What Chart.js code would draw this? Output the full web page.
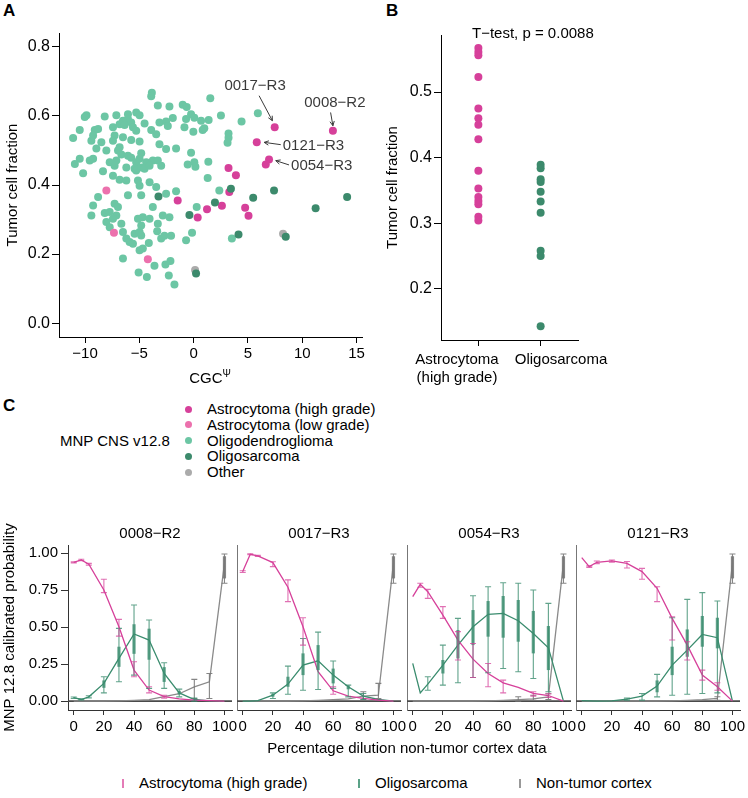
<!DOCTYPE html>
<html>
<head>
<meta charset="utf-8">
<script src="https://cdn.jsdelivr.net/npm/chart.js@4"></script>
<style>
  body { margin: 0; background: #fff; font-family: "Liberation Sans", Arial, sans-serif; }
  #fig { position: relative; width: 748px; height: 798px; overflow: hidden; }
  canvas { position: absolute; }
  .txt { position: absolute; font-size: 15px; line-height: 18px; color: #000; white-space: nowrap; }
  .mid { transform: translateX(-50%); }
  .letter { position: absolute; font-size: 17px; line-height: 20px; font-weight: bold; }
  .dot { position: absolute; width: 7px; height: 7px; border-radius: 50%; }
  .bar { position: absolute; width: 1.5px; height: 9px; }
</style>
</head>
<body>
<div id="fig">
  <div class="letter" style="left:3px;top:1px">A</div>
  <div class="letter" style="left:386px;top:1px">B</div>
  <div class="letter" style="left:3px;top:396px">C</div>

  <canvas id="chartA" width="372" height="370" style="left:0;top:0"></canvas>
  <canvas id="chartB" width="240" height="390" style="left:370px;top:0"></canvas>
  <div class="txt mid" style="left:210px;top:369px">CGC<sup style="font-size:10px;line-height:0">Ψ</sup></div>
  <div class="txt" style="left:472px;top:24px">T−test, p = 0.0088</div>
  <div id="groupLabels"></div>

  <div class="txt" style="left:60px;top:432px">MNP CNS v12.8</div>
  <div id="legendC"></div>

  <canvas id="c1" width="252" height="220" style="left:0;top:520px"></canvas>
  <canvas id="c2" width="252" height="220" style="left:169px;top:520px"></canvas>
  <canvas id="c3" width="252" height="220" style="left:339px;top:520px"></canvas>
  <canvas id="c4" width="252" height="220" style="left:508px;top:520px"></canvas>

  <div class="txt mid" style="left:407px;top:739px">Percentage dilution non-tumor cortex data</div>
  <div id="legendBottom"></div>
</div>

<script>
// ---------- panel A: CGC score vs tumor cell fraction ----------
const oligodendroX = [-3.85,-3.91,-3.30,-2.23,-9.87,-10.03,-8.19,-7.12,-6.05,-5.29,-4.98,-6.05,-5.75,-6.51,-6.82,-4.52,-3.15,-2.54,-1.92,
  -10.49,-11.10,-9.11,-8.80,-9.42,-8.50,-9.26,-7.43,-6.36,-5.59,-5.29,-3.91,-3.45,-2.38,-7.28,-7.43,-6.51,-5.75,-4.98,-3.15,-2.54,-1.62,
  -6.82,-6.97,-6.66,-6.05,-5.75,-5.29,-4.83,-4.98,-4.37,-3.76,-3.30,-2.99,-8.96,-8.04,-9.26,-9.57,-10.49,-10.94,-10.18,-8.35,-7.73,-7.12,
  -7.28,-6.20,-5.44,-5.29,-4.83,-4.52,-4.06,-7.43,-6.82,-6.20,-5.13,-4.98,-4.06,-3.45,-2.54,-1.62,-8.80,-6.05,-4.83,
  -9.26,-9.42,-8.19,-7.73,-7.28,-6.97,-7.12,-7.43,-8.04,-7.73,-6.66,-6.51,-6.20,-5.90,-5.59,-5.44,-4.98,-4.83,-5.13,-4.83,-4.68,-4.06,
  -3.76,-3.30,-3.36,-2.84,-2.23,-2.69,-2.99,-2.08,-4.98,-4.68,-4.13,-6.51,-3.61,-2.60,-2.14,-5.07,-4.31,-2.29,-1.77,
  1.53,-1.01,-0.64,-0.24,0.06,-0.70,0.68,1.38,2.51,4.41,5.91,-0.85,-0.03,0.83,0.98,3.21,3.21,3.12,-0.24,-0.55,0.06,0.16,1.35,1.29,2.36,
  0.28,-0.15,-0.70,3.52];
const oligodendroY = [0.667,0.657,0.630,0.627,0.602,0.597,0.598,0.602,0.605,0.610,0.602,0.591,0.581,0.586,0.576,0.578,0.581,0.584,0.594,
  0.559,0.536,0.559,0.562,0.528,0.524,0.543,0.567,0.574,0.567,0.557,0.559,0.547,0.571,0.543,0.528,0.538,0.530,0.526,0.518,0.504,0.506,
  0.509,0.500,0.488,0.485,0.479,0.466,0.492,0.476,0.466,0.471,0.471,0.456,0.506,0.500,0.476,0.471,0.476,0.461,0.434,0.440,0.466,0.471,
  0.456,0.451,0.447,0.442,0.451,0.447,0.456,0.427,0.415,0.413,0.413,0.398,0.408,0.394,0.375,0.382,0.365,0.370,0.370,
  0.341,0.312,0.319,0.322,0.346,0.336,0.312,0.302,0.293,0.278,0.288,0.264,0.245,0.235,0.230,0.259,0.264,0.254,0.302,0.283,0.307,0.302,
  0.336,0.288,0.266,0.312,0.307,0.253,0.245,0.253,0.211,0.216,0.232,0.187,0.166,0.170,0.180,0.147,0.134,0.138,0.112,
  0.651,0.632,0.626,0.605,0.595,0.591,0.586,0.588,0.601,0.584,0.608,0.567,0.554,0.559,0.564,0.549,0.537,0.522,0.493,0.459,0.466,0.453,
  0.467,0.420,0.384,0.336,0.262,0.240,0.245];
const oligosarcomaX = [3.43,1.96,-0.39,5.48,7.40,11.23,14.13,4.13,8.48,0.22,-3.24];
const oligosarcomaY = [0.389,0.349,0.313,0.363,0.384,0.333,0.365,0.257,0.250,0.144,0.367];
const astroHighX = [7.46,12.82,5.81,6.94,6.64,3.21,3.89,3.28,2.60,1.23,0.37,4.74,5.05,-1.47];
const astroHighY = [0.567,0.557,0.524,0.474,0.459,0.449,0.428,0.380,0.340,0.330,0.306,0.334,0.311,0.355];
const astroLowX = [-8.04,-7.34,-4.22];
const astroLowY = [0.384,0.262,0.185];
const otherX = [8.23,0.13];
const otherY = [0.259,0.154];
// the first four high grade astrocytomas are the labelled samples
const labelledSamples = ['0017-R3','0008-R2','0121-R3','0054-R3'];
const aXTicks = [-10,-5,0,5,10,15];
const aYTicks = [0,0.2,0.4,0.6,0.8];

// ---------- panel B ----------
const bGroups = [['Astrocytoma','(high grade)'], ['Oligosarcoma']];
const bAstroY = [0.567,0.561,0.556,0.523,0.475,0.460,0.450,0.428,0.380,0.353,0.340,0.334,0.329,0.310,0.304];
const bOligoY = [0.389,0.384,0.367,0.363,0.348,0.333,0.316,0.258,0.250,0.143];
const bYTicks = [0.2,0.3,0.4,0.5];

// ---------- panel C: dilution series ----------
const dilution = [0,5,10,20,30,40,50,60,70,80,90,100];
const dilutionTicks = [0,20,40,60,80,100];
const probTicks = [0,0.25,0.5,0.75,1];
const sampleIds = ['0008-R2','0017-R3','0054-R3','0121-R3'];

const astro0008   = [0.939,0.955,0.926,0.752,0.503,0.21,0.075,0.03,0.015,0.007,0.003,0];
const astro0008Lo = [0.935,0.95,0.92,0.734,0.44,0.165,0.056,0.02,null,null,null,null];
const astro0008Hi = [0.943,0.96,0.932,0.824,0.553,0.266,0.097,0.04,null,null,null,null];
const oligo0008   = [0.023,0.011,0.029,0.12,0.289,0.454,0.413,0.187,0.056,0.011,0.002,0];
const oligo0008Lo = [0.018,0.008,0.022,0.056,0.131,0.176,0.086,0.086,0.029,0.0,null,null];
const oligo0008Hi = [0.028,0.015,0.036,0.165,0.492,0.65,0.549,0.26,0.081,0.02,null,null];
const oligo0008Q1 = [null,null,null,0.09,0.232,0.32,0.28,0.13,0.045,null,null,null];
const oligo0008Q3 = [null,null,null,0.14,0.368,0.52,0.49,0.23,0.07,null,null,null];
const ctx0008     = [0,0,0,0,0.002,0.005,0.01,0.03,0.05,0.097,0.131,0.932];
const ctx0008Lo   = [null,null,null,null,null,null,null,null,null,0.018,0.018,0.797];
const ctx0008Hi   = [null,null,null,null,null,null,null,null,null,0.147,0.187,0.995];

const astro0017   = [0.876,0.993,0.982,0.937,0.77,0.503,0.199,0.07,0.034,0.018,0.007,0];
const astro0017Lo = [0.87,0.99,0.978,0.91,0.673,0.379,null,0.047,null,null,null,null];
const astro0017Hi = [0.882,0.996,0.986,0.943,0.82,0.564,null,0.097,null,null,null,null];
const oligo0017   = [0,0,0.003,0.04,0.115,0.244,0.273,0.176,0.097,0.034,0.011,0];
const oligo0017Lo = [null,null,null,0.018,0.047,0.074,0.079,0.086,0.029,0.011,null,null];
const oligo0017Hi = [null,null,null,0.056,0.237,0.424,0.467,0.271,0.108,0.052,null,null];
const oligo0017Q1 = [null,null,null,0.03,0.097,0.176,0.21,0.12,0.08,null,null,null];
const oligo0017Q3 = [null,null,null,0.05,0.165,0.323,0.379,0.22,0.105,null,null,null];
const ctx0017     = [0,0,0,0,0,0.002,0.005,0.01,0.015,0.034,0.04,0.932];
const ctx0017Lo   = [null,null,null,null,null,null,null,null,null,0.007,0.018,0.797];
const ctx0017Hi   = [null,null,null,null,null,null,null,null,null,0.063,0.12,0.995];

const astro0054   = [0.707,0.79,0.74,0.582,0.413,0.284,0.187,0.124,0.093,0.052,0.038,0];
const astro0054Lo = [null,0.77,0.695,0.56,0.278,0.16,0.097,0.056,null,0.034,0.025,null];
const astro0054Hi = [null,0.797,0.756,0.639,0.47,0.39,0.255,0.142,null,0.063,0.05,null];
const oligo0054   = [0.255,0.056,0.115,0.244,0.379,0.503,0.587,0.594,0.544,0.458,0.361,0];
const oligo0054Lo = [null,null,0.074,0.108,0.124,0.16,0.192,0.221,0.199,0.153,0.063,null];
const oligo0054Hi = [null,null,0.165,0.379,0.56,0.713,0.774,0.801,0.797,0.752,0.661,null];
const oligo0054Q1 = [null,null,null,0.187,0.289,0.379,0.436,0.429,0.402,0.323,0.21,null];
const oligo0054Q3 = [null,null,null,0.278,0.481,0.616,0.677,0.711,0.684,0.61,0.508,null];
const ctx0054     = [0,0,0,0,0,0,0.002,0.005,0.01,0.015,0.029,0.932];
const ctx0054Lo   = [null,null,null,null,null,null,null,null,0.0,0.005,0.01,0.797];
const ctx0054Hi   = [null,null,null,null,null,null,null,null,0.03,0.04,0.05,0.995];

const astro0121   = [0.971,0.91,0.939,0.948,0.932,0.876,0.763,0.56,0.379,0.176,0.097,0];
const astro0121Lo = [null,0.905,0.93,0.94,0.9,0.824,0.673,0.413,0.278,0.142,0.074,null];
const astro0121Hi = [null,0.915,0.948,0.955,0.944,0.898,0.774,0.571,0.402,0.21,0.124,null];
const oligo0121   = [0.003,0.002,0,0.002,0.014,0.034,0.102,0.244,0.345,0.451,0.429,0];
const oligo0121Lo = [null,null,null,null,0.007,0.007,0.029,0.04,0.047,0.052,0.056,null];
const oligo0121Hi = [null,null,null,null,0.02,0.052,0.181,0.564,0.688,0.734,0.677,null];
const oligo0121Q1 = [null,null,null,null,null,null,0.06,0.176,0.3,0.368,0.357,null];
const oligo0121Q3 = [null,null,null,null,null,null,0.14,0.368,0.485,0.576,0.564,null];
const ctx0121     = [0,0,0,0,0,0,0,0.002,0.005,0.01,0.018,0.932];
const ctx0121Lo   = [null,null,null,null,null,null,null,null,null,null,0.005,0.797];
const ctx0121Hi   = [null,null,null,null,null,null,null,null,null,null,0.03,0.995];

// middle range of the pure cortex replicate (last dilution step), same in all samples
const ctxQ1 = [null,null,null,null,null,null,null,null,null,null,null,0.83];
const ctxQ3 = [null,null,null,null,null,null,null,null,null,null,null,0.98];

// colours
const C_AH = '#d6409a';   // astrocytoma high grade
const C_AL = '#ec71ad';   // astrocytoma low grade
const C_OD = '#6cc6a4';   // oligodendroglioma
const C_OS = '#3c8a6c';   // oligosarcoma
const C_OT = '#ababab';   // other
const C_CTX = '#8a8a8a';  // non-tumor cortex

Chart.defaults.font.family = '"Liberation Sans", Arial, sans-serif';
Chart.defaults.font.size = 15;
Chart.defaults.color = '#000';

const toPoints = (xs, ys) => xs.map((x, i) => ({x: x, y: ys[i]}));
const fixTicks = list => scale => { scale.ticks = list.map(v => ({value: v})); };
const minus = v => v < 0 ? '\u2212' + Math.abs(v) : String(v);

// labels with arrows for the four samples in panel A
const sampleArrows = {
  id: 'sampleArrows',
  afterDatasetsDraw(chart) {
    const {ctx, scales: {x, y}} = chart;
    // text / arrow offsets in pixels from each point
    const offs = [
      {tx: -19.6, ty: -41.6, align: 'center', t0: [-15.6, -31.6], t1: [-2.3, -6.6]},
      {tx: 2, ty: -28.3, align: 'center', t0: [-2.3, -18.3], t1: [0, -5]},
      {tx: 26, ty: 3.5, align: 'left', t0: [24, 2.5], t1: [7.4, 0.2]},
      {tx: 22, ty: 6.5, align: 'left', t0: [20, 5.5], t1: [6.7, 1.2]}
    ];
    ctx.save();
    ctx.font = '15px "Liberation Sans", Arial, sans-serif';
    ctx.fillStyle = '#3a3a3a';
    ctx.strokeStyle = '#3a3a3a';
    ctx.lineWidth = 1;
    labelledSamples.forEach((name, i) => {
      const px = x.getPixelForValue(astroHighX[i]);
      const py = y.getPixelForValue(astroHighY[i]);
      const o = offs[i];
      ctx.textAlign = o.align;
      ctx.textBaseline = 'middle';
      ctx.fillText(name.replace('-', '\u2212'), px + o.tx, py + o.ty);
      const ax = px + o.t0[0], ay = py + o.t0[1];
      const bx = px + o.t1[0], by = py + o.t1[1];
      ctx.beginPath();
      ctx.moveTo(ax, ay);
      ctx.lineTo(bx, by);
      const ang = Math.atan2(by - ay, bx - ax);
      ctx.moveTo(bx - 5 * Math.cos(ang - 0.45), by - 5 * Math.sin(ang - 0.45));
      ctx.lineTo(bx, by);
      ctx.lineTo(bx - 5 * Math.cos(ang + 0.45), by - 5 * Math.sin(ang + 0.45));
      ctx.stroke();
    });
    ctx.restore();
  }
};

function axisStyle(tickLen) {
  return {
    grid: {drawOnChartArea: false, tickLength: tickLen, color: '#000', tickWidth: 1},
    border: {color: '#000', width: 1}
  };
}

new Chart(document.getElementById('chartA'), {
  type: 'scatter',
  data: {
    datasets: [
      {label: 'Oligodendroglioma', data: toPoints(oligodendroX, oligodendroY), backgroundColor: C_OD, order: 5},
      {label: 'Other', data: toPoints(otherX, otherY), backgroundColor: C_OT, order: 4},
      {label: 'Astrocytoma (low grade)', data: toPoints(astroLowX, astroLowY), backgroundColor: C_AL, order: 3},
      {label: 'Astrocytoma (high grade)', data: toPoints(astroHighX, astroHighY), backgroundColor: C_AH, order: 2},
      {label: 'Oligosarcoma', data: toPoints(oligosarcomaX, oligosarcomaY), backgroundColor: C_OS, order: 1}
    ]
  },
  options: {
    responsive: false,
    animation: false,
    events: [],
    layout: {padding: {top: 33, right: 10, left: 0, bottom: 0}},
    elements: {point: {radius: 4, borderWidth: 0}},
    plugins: {legend: {display: false}, tooltip: {enabled: false}},
    scales: {
      x: {
        type: 'linear', min: -12.4, max: 15.5,
        afterBuildTicks: fixTicks(aXTicks),
        afterFit: s => { s.height = 33; },
        ticks: {padding: 2, callback: v => minus(v), maxRotation: 0},
        ...axisStyle(6)
      },
      y: {
        type: 'linear', min: -0.04, max: 0.84,
        afterBuildTicks: fixTicks(aYTicks),
        afterFit: s => { s.width = 59; },
        ticks: {padding: 2, callback: v => v.toFixed(1), font: {size: 16}},
        title: {display: true, text: 'Tumor cell fraction', padding: {top: 4, bottom: 0}},
        ...axisStyle(7)
      }
    }
  },
  plugins: [sampleArrows]
});

new Chart(document.getElementById('chartB'), {
  type: 'scatter',
  data: {
    datasets: [
      {label: 'Astrocytoma (high grade)', data: bAstroY.map(v => ({x: 1, y: v})), backgroundColor: C_AH},
      {label: 'Oligosarcoma', data: bOligoY.map(v => ({x: 2, y: v})), backgroundColor: C_OS}
    ]
  },
  options: {
    responsive: false,
    animation: false,
    events: [],
    layout: {padding: {top: 35, right: 32, left: 0, bottom: 0}},
    elements: {point: {radius: 4, borderWidth: 0}},
    plugins: {legend: {display: false}, tooltip: {enabled: false}},
    scales: {
      x: {
        type: 'linear', min: 0.4, max: 2.6,
        afterBuildTicks: fixTicks([1, 2]),
        afterFit: s => { s.height = 50; },
        // group names are set as html text below so they can sit apart
        ticks: {padding: 2, maxRotation: 0, callback: () => ''},
        ...axisStyle(6)
      },
      y: {
        type: 'linear', min: 0.122, max: 0.587,
        afterBuildTicks: fixTicks(bYTicks),
        afterFit: s => { s.width = 71; },
        ticks: {padding: 2, callback: v => v.toFixed(1), font: {size: 16}},
        title: {display: true, text: 'Tumor cell fraction', padding: {top: 14, bottom: 0}},
        ...axisStyle(7)
      }
    }
  }
});

// group names under panel B
const groupLabelCenters = [457, 561];
const gl = document.getElementById('groupLabels');
bGroups.forEach((lines, i) => {
  lines.forEach((t, j) => {
    gl.insertAdjacentHTML('beforeend',
      `<div class="txt mid" style="left:${groupLabelCenters[i]}px;top:${350 + j * 18}px">${t}</div>`);
  });
});

// ---------- panel C ----------
const zeroLine = {
  id: 'zeroLine',
  beforeDatasetsDraw(chart) {
    const {ctx, chartArea: a, scales: {y}} = chart;
    const py = y.getPixelForValue(0);
    ctx.save();
    ctx.strokeStyle = '#4a4a4a';
    ctx.lineWidth = 1.6;
    ctx.beginPath();
    ctx.moveTo(a.left, py);
    ctx.lineTo(a.right, py);
    ctx.stroke();
    ctx.restore();
  }
};

const errorBars = {
  id: 'errorBars',
  afterDatasetsDraw(chart) {
    const {ctx, scales: {x, y}} = chart;
    const sets = chart.data.datasets.slice().reverse();
    ctx.save();
    sets.forEach(ds => {
      ds.data.forEach((p, i) => {
        const lo = ds.errLo[i], hi = ds.errHi[i];
        if (lo == null || hi == null) return;
        const px = x.getPixelForValue(p.x);
        const yl = y.getPixelForValue(lo), yh = y.getPixelForValue(hi);
        ctx.strokeStyle = ds.barColor;
        ctx.lineWidth = 1.1;
        ctx.beginPath();
        ctx.moveTo(px, yl); ctx.lineTo(px, yh);
        ctx.moveTo(px - 3, yl); ctx.lineTo(px + 3, yl);
        ctx.moveTo(px - 3, yh); ctx.lineTo(px + 3, yh);
        ctx.stroke();
        if (ds.boxLo && ds.boxLo[i] != null) {
          ctx.lineWidth = 3.2;
          ctx.beginPath();
          ctx.moveTo(px, y.getPixelForValue(ds.boxLo[i]));
          ctx.lineTo(px, y.getPixelForValue(ds.boxHi[i]));
          ctx.stroke();
        }
      });
    });
    ctx.restore();
  }
};

const panelsC = [
  {astro: astro0008, astroLo: astro0008Lo, astroHi: astro0008Hi, oligo: oligo0008, oligoLo: oligo0008Lo, oligoHi: oligo0008Hi,
   oligoQ1: oligo0008Q1, oligoQ3: oligo0008Q3, ctx: ctx0008, ctxLo: ctx0008Lo, ctxHi: ctx0008Hi},
  {astro: astro0017, astroLo: astro0017Lo, astroHi: astro0017Hi, oligo: oligo0017, oligoLo: oligo0017Lo, oligoHi: oligo0017Hi,
   oligoQ1: oligo0017Q1, oligoQ3: oligo0017Q3, ctx: ctx0017, ctxLo: ctx0017Lo, ctxHi: ctx0017Hi},
  {astro: astro0054, astroLo: astro0054Lo, astroHi: astro0054Hi, oligo: oligo0054, oligoLo: oligo0054Lo, oligoHi: oligo0054Hi,
   oligoQ1: oligo0054Q1, oligoQ3: oligo0054Q3, ctx: ctx0054, ctxLo: ctx0054Lo, ctxHi: ctx0054Hi},
  {astro: astro0121, astroLo: astro0121Lo, astroHi: astro0121Hi, oligo: oligo0121, oligoLo: oligo0121Lo, oligoHi: oligo0121Hi,
   oligoQ1: oligo0121Q1, oligoQ3: oligo0121Q3, ctx: ctx0121, ctxLo: ctx0121Lo, ctxHi: ctx0121Hi}
];

function dilutionChart(canvasId, idx) {
  const p = panelsC[idx];
  const first = idx === 0;
  const line = ys => dilution.map((d, i) => ({x: d, y: ys[i]}));
  new Chart(document.getElementById(canvasId), {
    type: 'line',
    data: {
      datasets: [
        {label: 'Astrocytoma (high grade)', data: line(p.astro), borderColor: C_AH,
         errLo: p.astroLo, errHi: p.astroHi, barColor: 'rgba(214,64,154,0.75)'},
        {label: 'Oligosarcoma', data: line(p.oligo), borderColor: '#3a8c6e',
         errLo: p.oligoLo, errHi: p.oligoHi, boxLo: p.oligoQ1, boxHi: p.oligoQ3, barColor: 'rgba(58,140,110,0.8)'},
        {label: 'Non-tumor cortex', data: line(p.ctx), borderColor: C_CTX,
         errLo: p.ctxLo, errHi: p.ctxHi, boxLo: ctxQ1, boxHi: ctxQ3, barColor: 'rgba(120,120,120,0.9)'}
      ]
    },
    options: {
      responsive: false,
      animation: false,
      events: [],
      layout: {padding: {top: 0, right: 20, left: 0, bottom: 0}},
      elements: {point: {radius: 0}, line: {borderWidth: 1.3, tension: 0}},
      plugins: {
        legend: {display: false},
        tooltip: {enabled: false},
        title: {display: true, text: sampleIds[idx].replace('-', '\u2212'), fullSize: false,
                font: {size: 15, weight: 'normal'}, color: '#000', padding: {top: 5, bottom: 2}}
      },
      scales: {
        x: {
          type: 'linear', min: -3.8, max: 105,
          afterBuildTicks: fixTicks(dilutionTicks),
          afterFit: s => { s.height = 30; },
          ticks: {padding: 3, maxRotation: 0},
          grid: {drawOnChartArea: false, tickLength: 5, color: '#333'},
          border: {color: '#333'}
        },
        y: {
          type: 'linear', min: -0.06, max: 1.056,
          afterBuildTicks: fixTicks(probTicks),
          afterFit: s => { s.width = 68; },
          ticks: {display: first, padding: 3, callback: v => v.toFixed(2)},
          grid: {drawOnChartArea: false, drawTicks: first, tickLength: 7, color: '#333'},
          border: {color: first ? '#333' : '#777'},
          title: {display: first, text: 'MNP 12.8 calibrated probability', padding: {top: 1, bottom: 0}}
        }
      }
    },
    plugins: [zeroLine, errorBars]
  });
}
['c1', 'c2', 'c3', 'c4'].forEach((id, i) => dilutionChart(id, i));

// ---------- legends ----------
const legendCNames = ['Astrocytoma (high grade)', 'Astrocytoma (low grade)', 'Oligodendroglioma', 'Oligosarcoma', 'Other'];
const legendCColors = [C_AH, C_AL, C_OD, C_OS, C_OT];
const legC = document.getElementById('legendC');
legendCNames.forEach((name, i) => {
  const cy = 409 + i * 15.8;
  legC.insertAdjacentHTML('beforeend',
    `<div class="dot" style="left:185px;top:${cy - 3.5}px;background:${legendCColors[i]}"></div>` +
    `<div class="txt" style="left:207px;top:${cy - 9}px">${name}</div>`);
});

const legendBNames = ['Astrocytoma (high grade)', 'Oligosarcoma', 'Non-tumor cortex'];
const legendBColors = ['#e47bb7', '#5aa287', '#999'];
const legendBLeft = [122, 358, 519];
const legB = document.getElementById('legendBottom');
legendBNames.forEach((name, i) => {
  legB.insertAdjacentHTML('beforeend',
    `<div class="bar" style="left:${legendBLeft[i]}px;top:779px;background:${legendBColors[i]}"></div>` +
    `<div class="txt" style="left:${legendBLeft[i] + 17}px;top:774px">${name}</div>`);
});
</script>
</body>
</html>
